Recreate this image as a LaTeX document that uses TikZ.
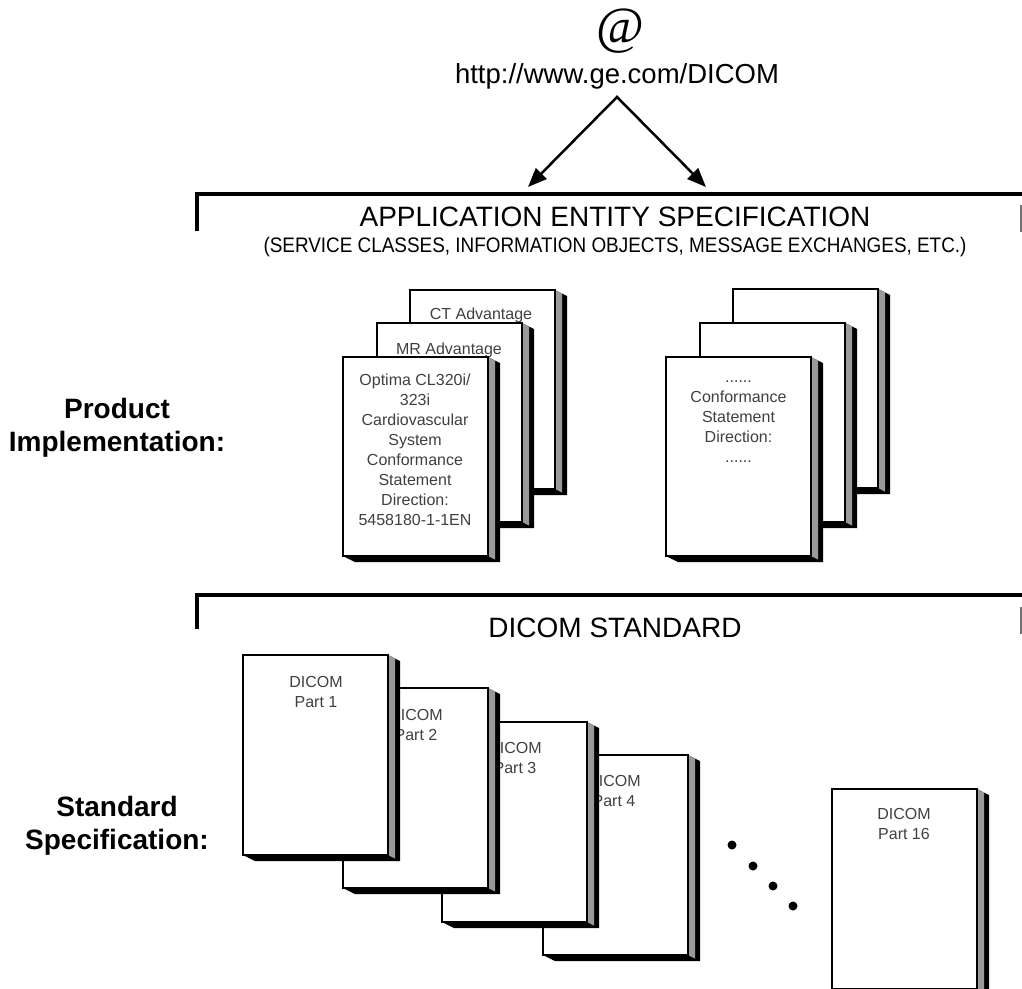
\documentclass[tikz,border=0pt]{standalone}
\usepackage{fontspec}
\setmainfont{Liberation Sans}
\newfontfamily\atfont{Liberation Serif}
\newfontfamily\subfont[FakeStretch=0.9]{Liberation Sans}
\usetikzlibrary{arrows.meta}
\tikzset{
  face/.style={draw=black, line width=1.2pt, fill=white, minimum width=145pt,
    anchor=north west, inner sep=0pt, outer sep=0pt},
  doctext/.style={text=black!75, font=\fontsize{16}{20}\selectfont, align=center, inner sep=0pt},
  bracket/.style={line width=4pt, line cap=butt, line join=miter},
  biglabel/.style={font=\fontsize{28}{33}\selectfont\bfseries, align=center},
  title/.style={font=\fontsize{28}{30}\selectfont},
  arrowline/.style={line width=2.5pt, line join=miter,
    {Triangle[length=19pt,width=15pt]}-{Triangle[length=19pt,width=15pt]}},
  dotnode/.style={circle, fill=black, minimum size=9pt, inner sep=0pt},
  edgefrag/.style={line width=2pt, black!55}
}
\newcommand\mkdoc[4]{%
  \node[face, minimum height=#4pt] (#1) at (#2,#3) {};
  \fill[black] (#1.north east) -- ([shift={(12,6)}]#1.north east)
     -- ([shift={(12,6)}]#1.south east) -- ([shift={(12,6)}]#1.south west)
     -- (#1.south west) -- (#1.south east) -- cycle;
  \fill[black!40] (#1.north east) -- ([shift={(7,3.5)}]#1.north east)
     -- ([shift={(7,3.5)}]#1.south east) -- (#1.south east) -- cycle;
  \draw[line width=1.2pt] (#1.south west) rectangle (#1.north east);
}
\begin{document}
\begin{tikzpicture}[x=1pt,y=-1pt]
\useasboundingbox[fill=white] (0,0) rectangle (1022,988);

% top
\node[font=\atfont\fontsize{52}{52}\selectfont, inner sep=0pt] (at) at (620,31) {@};
\node[font=\fontsize{27.5}{30}\selectfont, inner sep=0pt] (url) at (617,76) {http://www.ge.com/DICOM};
\coordinate (apex) at (617,97);
\coordinate (tipL) at (528,187);
\coordinate (tipR) at (706,187);
\draw[arrowline] (tipL) -- (apex) -- (tipR);

% application entity bracket
\draw[bracket] (197,231) -- (197,194) -- (1022,194);
\draw[edgefrag] (1021,205) -- (1021,232);
\node[title] (aes) at (615,217) {APPLICATION ENTITY SPECIFICATION};
\node[font=\subfont\fontsize{21}{24}\selectfont] (aesub) at (615,247)
  {(SERVICE CLASSES, INFORMATION OBJECTS, MESSAGE EXCHANGES, ETC.)};

\node[biglabel] (prod) at (117,428) {Product\\Implementation:};

% left stack
\mkdoc{ct}{410}{290}{199}
\node[doctext] (ctt) at (481,315) {CT Advantage};
\mkdoc{mr}{377}{323}{199}
\node[doctext] (mrt) at (449,350) {MR Advantage};
\mkdoc{opt}{343}{357}{199}
\node[doctext] (optt) at (415,450) {Optima CL320i/\\323i\\Cardiovascular\\System\\Conformance\\Statement\\Direction:\\5458180-1-1EN};

% right stack
\mkdoc{rb}{733}{289}{199}
\mkdoc{rm}{700}{323}{199}
\mkdoc{rf}{666}{357}{199}
\node[doctext] (rft) at (738.5,422) {......\\Conformance\\Statement\\Direction:\\......};

% DICOM standard bracket
\draw[bracket] (197,629) -- (197,595) -- (1022,595);
\draw[edgefrag] (1021,607) -- (1021,634);
\node[title] (dstd) at (615,628) {DICOM STANDARD};

\node[biglabel] (stdspec) at (117,826) {Standard\\Specification:};

% parts
\mkdoc{p4}{543}{755}{200}
\node[doctext] (p4t) at (614,791) {DICOM\\Part 4};
\mkdoc{p3}{442}{722}{200}
\node[doctext] (p3t) at (515,758) {DICOM\\Part 3};
\mkdoc{p2}{343}{688}{200}
\node[doctext] (p2t) at (416,725) {DICOM\\Part 2};
\mkdoc{p1}{243}{655}{200}
\node[doctext] (p1t) at (316,692) {DICOM\\Part 1};
\mkdoc{p16}{832}{789}{200}
\node[doctext] (p16t) at (904,824) {DICOM\\Part 16};

\node[dotnode] (d1) at (732,845) {};
\node[dotnode] (d2) at (753,866) {};
\node[dotnode] (d3) at (773,886) {};
\node[dotnode] (d4) at (793,906) {};
\end{tikzpicture}
\end{document}
